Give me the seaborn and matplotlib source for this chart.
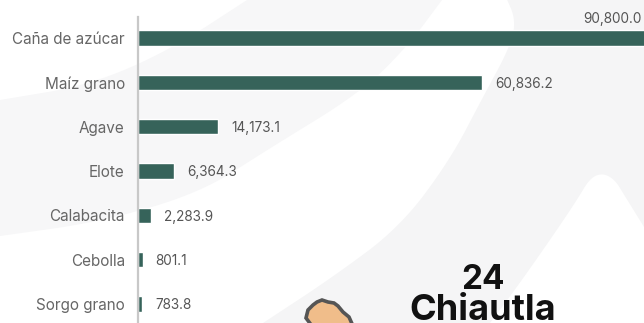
import matplotlib
matplotlib.use('Agg')
import matplotlib.pyplot as plt
from matplotlib.patches import Polygon
import numpy as np
import pandas as pd
import seaborn as sb

# values
cultivos = ['Caña de azúcar', 'Maíz grano', 'Agave', 'Elote', 'Calabacita', 'Cebolla', 'Sorgo grano']
produccion = [90800.0, 60836.2, 14173.1, 6364.3, 2283.9, 801.1, 783.8]
etiquetas = ['90,800.0', '60,836.2', '14,173.1', '6,364.3', '2,283.9', '801.1', '783.8']
numero = '24'
municipio = 'Chiautla'

df = pd.DataFrame({'cultivo': cultivos, 'produccion': produccion})

W, H = 644, 323
sb.set_style('white')
plt.rcParams['font.family'] = ['Inter', 'DejaVu Sans']


def smooth(pts, n=3):
    # corner cutting so the hand read outlines look like curves
    pts = np.array(pts, dtype=float)
    for _ in range(n):
        a = pts[:-1] * 0.75 + pts[1:] * 0.25
        b = pts[:-1] * 0.25 + pts[1:] * 0.75
        pts = np.vstack([pts[:1], np.column_stack([a, b]).reshape(-1, 2), pts[-1:]])
    return pts


fig = plt.figure(figsize=(W / 100, H / 100), dpi=100, facecolor='white')

# background swooshes, pixel coords of the reference
bg = fig.add_axes([0, 0, 1, 1], zorder=0)
bg.set_xlim(0, W)
bg.set_ylim(H, 0)
bg.axis('off')
top_edge = smooth([(0, 100), (90, 85), (170, 50), (247, 0)])
low_edge = smooth([(442, 0), (407, 47), (360, 93), (267, 150), (200, 193), (100, 222), (0, 236)])
bg.add_patch(Polygon(np.vstack([top_edge, low_edge]), closed=True, fc='#f7f7f8', ec='none'))

inner = smooth([(505, -5), (516, 20), (510, 47), (483, 97), (450, 160), (400, 227), (333, 277), (263, 323)])
peak = smooth([(490, 323), (517, 287), (550, 240), (577, 200), (590, 178), (603, 173), (615, 180), (623, 193), (644, 227)])
bg.add_patch(Polygon(np.vstack([inner, peak, [(644, 0)]]), closed=True, fc='#f5f5f6', ec='none'))

# bars, x axis scaled so that 60,836.2 ends at pixel 482
x0 = 138
scale = (482 - x0) / 60836.2
step = 44.33
ax = fig.add_axes([x0 / W, 0, (W - x0) / W, 1], zorder=1)
ax.patch.set_alpha(0)
sb.barplot(data=df, y='cultivo', x='produccion', color='#36635a', saturation=1, width=0.35, ax=ax)
ax.set_xlim(0, (W - x0) / scale)
# first bar centred on y=38
ax.set_ylim((H - 38) / step, -38 / step)
for i, (v, t) in enumerate(zip(produccion, etiquetas)):
    if i == 0:
        # the big bar runs off the canvas, its label sits above it
        bg.text(583, 19, t, ha='left', va='center', fontsize=9.8, color='#555555', zorder=3)
    else:
        ax.annotate(t, (v, i), xytext=(9.5, -1), textcoords='offset points', ha='left', va='center',
                    fontsize=9.8, color='#555555')
ax.set_xlabel('')
ax.set_ylabel('')
ax.set_xticks([])
ax.tick_params(axis='y', length=0, pad=9.5, labelsize=11, labelcolor='#666666')
for s in ['top', 'right', 'bottom']:
    ax.spines[s].set_visible(False)
ax.spines['left'].set_color('#c8c8c8')
ax.spines['left'].set_linewidth(1.6)
ax.spines['left'].set_bounds((H - 38) / step, -21 / step)

# map fragment and municipality label
blob = [(312, 326), (306, 318), (308, 310), (313, 305), (317, 302), (322, 300), (328, 302), (334, 303), (338, 306),
        (343, 312), (349, 317), (353, 326)]
bg.add_patch(Polygon(blob, closed=True, fc='#f0bd8a', ec='#555555', lw=2.6, zorder=3))
bg.text(483, 289, numero, ha='center', va='baseline', fontsize=24, fontweight='bold', color='#111111', zorder=3)
bg.text(483, 320, municipio, ha='center', va='baseline', fontsize=26, fontweight='bold', color='#111111', zorder=3)

fig.savefig('out.png', dpi=100)
